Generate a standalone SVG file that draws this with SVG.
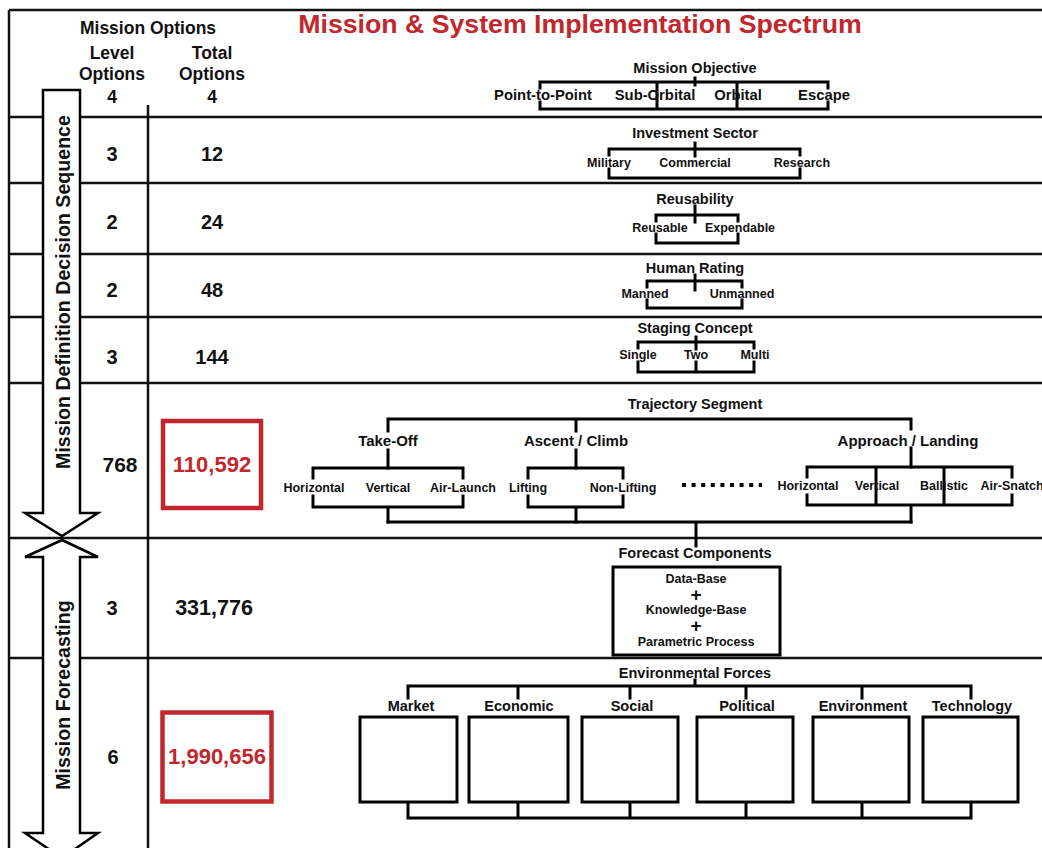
<svg xmlns="http://www.w3.org/2000/svg" width="1042" height="848" viewBox="0 0 1042 848">
<style>
.sep{stroke:#111;stroke-width:2.5;fill:none}
.ln{stroke:#000;stroke-width:3;fill:none;stroke-linecap:square}
.box{stroke:#000;stroke-width:3;fill:#fff}
.red{stroke:#c1272d;stroke-width:4.5;fill:none}
.arrow{stroke:#000;stroke-width:2.5;fill:#fff;stroke-linejoin:miter}
text{font-family:"Liberation Sans",Arial,sans-serif;font-weight:bold;fill:#111;text-anchor:middle}
.hd{font-size:17.5px}
.num{font-size:20px}
.ttl{font-size:14.5px}
.lbl{font-size:12.5px}
.lbl2{font-size:14.8px}
.sub{font-size:15px}
</style>
<rect width="1042" height="848" fill="#fff"/>
<g id="frame">
<line class="sep" x1="9" y1="10" x2="1042" y2="10"/>
<line class="sep" x1="9" y1="10" x2="9" y2="848"/>
<line class="sep" x1="148" y1="105" x2="148" y2="848"/>
<line class="sep" x1="9" y1="117" x2="1042" y2="117"/>
<line class="sep" x1="9" y1="183" x2="1042" y2="183"/>
<line class="sep" x1="9" y1="254" x2="1042" y2="254"/>
<line class="sep" x1="9" y1="317" x2="1042" y2="317"/>
<line class="sep" x1="9" y1="383" x2="1042" y2="383"/>
<line class="sep" x1="9" y1="538" x2="1042" y2="538"/>
<line class="sep" x1="9" y1="658" x2="1042" y2="658"/>
</g>
<text x="580" y="33" style="font-size:26.7px;fill:#c1272d">Mission &amp; System Implementation Spectrum</text>
<g id="header">
<text class="hd" x="148" y="34">Mission Options</text>
<text class="hd" x="112" y="59">Level</text>
<text class="hd" x="112" y="80">Options</text>
<text class="hd" x="112" y="103">4</text>
<text class="hd" x="212" y="59">Total</text>
<text class="hd" x="212" y="80">Options</text>
<text class="hd" x="212" y="103">4</text>
</g>
<g id="arrow-definition">
<polygon class="arrow" points="43,90 80,90 80,513 98,513 62,536 25,513 43,513"/>
<text transform="translate(70,292) rotate(-90)" style="font-size:19.6px">Mission Definition Decision Sequence</text>
</g>
<g id="arrow-forecasting">
<polygon class="arrow" points="62,540 98,557 80,557 80,833 98,833 62,858 25,833 43,833 43,557 25,557"/>
<text transform="translate(70,695) rotate(-90)" style="font-size:19.6px">Mission Forecasting</text>
</g>
<g id="counts">
<text class="num" x="112" y="161">3</text><text class="num" x="212" y="161">12</text>
<text class="num" x="112" y="229">2</text><text class="num" x="212" y="229">24</text>
<text class="num" x="112" y="297">2</text><text class="num" x="212" y="297">48</text>
<text class="num" x="112" y="364">3</text><text class="num" x="212" y="364">144</text>
<text class="num" x="120" y="472" style="font-size:21px">768</text>
<text class="num" x="112" y="615">3</text><text class="num" x="214" y="615" style="font-size:21.5px">331,776</text>
<text class="num" x="113" y="764">6</text>
</g>
<g id="total-110592">
<rect class="red" x="163" y="421" width="98" height="87"/>
<text x="212" y="472" style="font-size:22px;fill:#c1272d">110,592</text>
</g>
<g id="total-1990656">
<rect class="red" x="162.5" y="712.5" width="109" height="89"/>
<text x="217" y="764" style="font-size:22px;fill:#c1272d">1,990,656</text>
</g>
<g id="connectors">
<path class="ln" d="M695,78 V85 M540,88 V82 H828 V88 M540,102 V109 H828 V102 M657,82 V109 M737,82 V109"/>
<path class="ln" d="M695,143 V156 M609,155 V149 H800 V155 M609,169 V178 H800 V169"/>
<path class="ln" d="M695,206 V222 M656,221 V215 H738 V221 M656,234 V243 H738 V234"/>
<path class="ln" d="M695,275 V290 M647,287 V281 H742 V287 M647,300 V308 H742 V300"/>
<path class="ln" d="M696,337 V349 M696,362 V372 M638,348 V342 H754 V348 M638,362 V372 H754 V362"/>
<path class="ln" d="M388,431 V419 H911 V429 M576,419 V431 M388,450 V468 M576,450 V468 M911,448 V467"/>
<path class="ln" d="M313,478 V468 H463 V478 M313,496 V507 H463 V496 M388,507 V522"/>
<path class="ln" d="M528,478 V468 H623 V478 M528,496 V507 H623 V496 M576,507 V522"/>
<path class="ln" d="M807,477 V467 H1012 V477 M807,495 V505 H1012 V495 M876,467 V505 M944,467 V505 M911,505 V522"/>
<path class="ln" d="M388,522 H911 M696,522 V546"/>
<line x1="682" y1="485" x2="762" y2="485" style="stroke:#000;stroke-width:4;stroke-dasharray:4 5.6"/>
<path class="ln" d="M695,680 V686 M408,698 V686 H971 V698 M518,686 V698 M630,686 V698 M746,686 V698 M862,686 V698"/>
<path class="ln" d="M408,802 V818 H971 V802 M518,802 V818 M630,802 V818 M746,802 V818 M862,802 V818"/>
</g>
<g id="mission-objective">
<text class="ttl" x="695" y="73">Mission Objective</text>
<text class="lbl2" x="543" y="100">Point-to-Point</text>
<text class="lbl2" x="655" y="100">Sub-Orbital</text>
<text class="lbl2" x="738" y="100">Orbital</text>
<text class="lbl2" x="824" y="100">Escape</text>
</g>
<g id="investment-sector">
<text class="ttl" x="695" y="138">Investment Sector</text>
<text class="lbl" x="609" y="167">Military</text>
<text class="lbl" x="695" y="167">Commercial</text>
<text class="lbl" x="802" y="167">Research</text>
</g>
<g id="reusability">
<text class="ttl" x="695" y="204">Reusability</text>
<text class="lbl" x="660" y="232">Reusable</text>
<text class="lbl" x="740" y="232">Expendable</text>
</g>
<g id="human-rating">
<text class="ttl" x="695" y="273">Human Rating</text>
<text class="lbl" x="645" y="298">Manned</text>
<text class="lbl" x="742" y="298">Unmanned</text>
</g>
<g id="staging-concept">
<text class="ttl" x="695" y="333">Staging Concept</text>
<text class="lbl" x="638" y="359">Single</text>
<text class="lbl" x="696" y="359">Two</text>
<text class="lbl" x="755" y="359">Multi</text>
</g>
<g id="trajectory-segment">
<text class="ttl" x="695" y="409">Trajectory Segment</text>
<text class="sub" x="388" y="446">Take-Off</text>
<text class="sub" x="576" y="446">Ascent / Climb</text>
<text class="sub" x="908" y="446">Approach / Landing</text>
<text class="lbl" x="314" y="492">Horizontal</text>
<text class="lbl" x="388" y="492">Vertical</text>
<text class="lbl" x="463" y="492">Air-Launch</text>
<text class="lbl" x="528" y="492">Lifting</text>
<text class="lbl" x="623" y="492">Non-Lifting</text>
<text class="lbl" x="808" y="490">Horizontal</text>
<text class="lbl" x="877" y="490">Vertical</text>
<text class="lbl" x="944" y="490">Ballistic</text>
<text class="lbl" x="1012" y="490">Air-Snatch</text>
</g>
<g id="forecast-components">
<text class="ttl" x="695" y="558">Forecast Components</text>
<rect class="box" x="613" y="567" width="167" height="88"/>
<text class="lbl" x="696" y="583">Data-Base</text>
<text x="696" y="601" style="font-size:19px">+</text>
<text class="lbl" x="696" y="614">Knowledge-Base</text>
<text x="696" y="632" style="font-size:19px">+</text>
<text class="lbl" x="696" y="646">Parametric Process</text>
</g>
<g id="environmental-forces">
<text class="ttl" x="695" y="678">Environmental Forces</text>
</g>
<g id="market"><text class="ttl" x="411" y="711">Market</text><rect class="box" x="360" y="717" width="97" height="85"/></g>
<g id="economic"><text class="ttl" x="519" y="711">Economic</text><rect class="box" x="469" y="717" width="99" height="85"/></g>
<g id="social"><text class="ttl" x="632" y="711">Social</text><rect class="box" x="582" y="717" width="96" height="85"/></g>
<g id="political"><text class="ttl" x="747" y="711">Political</text><rect class="box" x="697" y="717" width="96" height="85"/></g>
<g id="environment"><text class="ttl" x="863" y="711">Environment</text><rect class="box" x="813" y="717" width="96" height="85"/></g>
<g id="technology"><text class="ttl" x="972" y="711">Technology</text><rect class="box" x="923" y="717" width="95" height="85"/></g>
</svg>
